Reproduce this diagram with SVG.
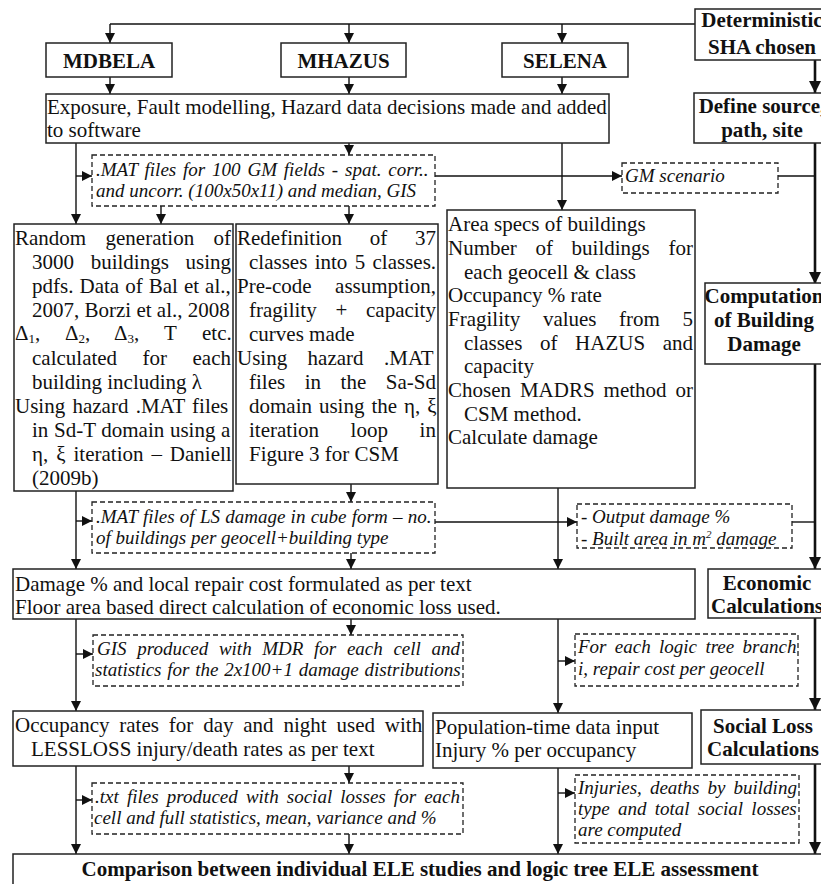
<svg xmlns="http://www.w3.org/2000/svg" width="821" height="884" viewBox="0 0 821 884">
<defs>
<marker id="ah" viewBox="0 0 10 10" refX="10" refY="5" markerWidth="10" markerHeight="10" markerUnits="userSpaceOnUse" orient="auto"><path d="M0,0 L10,5 L0,10 z" fill="#111"/></marker>
<marker id="ahb" viewBox="0 0 10 10" refX="10" refY="5" markerWidth="12" markerHeight="12" markerUnits="userSpaceOnUse" orient="auto"><path d="M0,0 L10,5 L0,10 z" fill="#111"/></marker>
</defs>
<style>
.box{fill:#fff;stroke:#222;stroke-width:1.5}
.dbox{fill:#fff;stroke:#222;stroke-width:1.3;stroke-dasharray:5 3}
.ln{fill:none;stroke:#111;stroke-width:1.4}
.lnb{fill:none;stroke:#111;stroke-width:2.6}
.t{font-family:"Liberation Serif","Times New Roman",serif;font-size:21px;fill:#111}
.b{font-weight:bold}
.i{font-style:italic;font-size:19px}
.c{text-anchor:middle}
.sub{font-size:13px}
</style>
<rect width="821" height="884" fill="#fff"/>

<g id="connectors">
<path class="ln" d="M110,24 H695"/>
<path class="ln" d="M110,24 V43" marker-end="url(#ah)"/>
<path class="ln" d="M349,24 V43" marker-end="url(#ah)"/>
<path class="ln" d="M562,24 V43" marker-end="url(#ah)"/>
<path class="ln" d="M110,77 V94" marker-end="url(#ah)"/>
<path class="ln" d="M349,77 V94" marker-end="url(#ah)"/>
<path class="ln" d="M562,77 V94" marker-end="url(#ah)"/>
<path class="lnb" d="M815,60 V93" marker-end="url(#ahb)"/>
<path class="ln" d="M76,143 V224" marker-end="url(#ah)"/>
<path class="ln" d="M76,176 H92" marker-end="url(#ah)"/>
<path class="ln" d="M349,143 V155" marker-end="url(#ah)"/>
<path class="ln" d="M161,206 V224" marker-end="url(#ah)"/>
<path class="ln" d="M349,206 V224" marker-end="url(#ah)"/>
<path class="ln" d="M435,176 H622" marker-end="url(#ah)"/>
<path class="ln" d="M562,143 V210" marker-end="url(#ah)"/>
<path class="ln" d="M778,176 H815"/>
<path class="lnb" d="M815,143 V284" marker-end="url(#ahb)"/>
<path class="ln" d="M76,491 V569" marker-end="url(#ah)"/>
<path class="ln" d="M76,521 H92" marker-end="url(#ah)"/>
<path class="ln" d="M351,484 V502" marker-end="url(#ah)"/>
<path class="ln" d="M351,553 V569" marker-end="url(#ah)"/>
<path class="ln" d="M435,522 H577" marker-end="url(#ah)"/>
<path class="ln" d="M558,488 V569" marker-end="url(#ah)"/>
<path class="ln" d="M792,522 H815"/>
<path class="lnb" d="M815,364 V569" marker-end="url(#ahb)"/>
<path class="ln" d="M76,619 V711" marker-end="url(#ah)"/>
<path class="ln" d="M76,654 H93" marker-end="url(#ah)"/>
<path class="ln" d="M351,619 V635" marker-end="url(#ah)"/>
<path class="ln" d="M558,619 V713" marker-end="url(#ah)"/>
<path class="ln" d="M558,661 H575" marker-end="url(#ah)"/>
<path class="lnb" d="M815,618 V710" marker-end="url(#ahb)"/>
<path class="ln" d="M76,766 V854" marker-end="url(#ah)"/>
<path class="ln" d="M76,800 H92" marker-end="url(#ah)"/>
<path class="ln" d="M349,766 V783" marker-end="url(#ah)"/>
<path class="ln" d="M349,834 V854" marker-end="url(#ah)"/>
<path class="ln" d="M558,768 V854" marker-end="url(#ah)"/>
<path class="ln" d="M558,793 H575" marker-end="url(#ah)"/>
<path class="lnb" d="M815,764 V854" marker-end="url(#ahb)"/>
</g>

<g id="deterministic">
<rect class="box" x="695" y="9" width="140" height="51"/>
<text class="t b c" x="762" y="27">Deterministic</text>
<text class="t b c" x="762" y="54">SHA chosen</text>
</g>
<g id="mdbela">
<rect class="box" x="46" y="43" width="126" height="34"/>
<text class="t b c" x="109" y="68">MDBELA</text>
</g>
<g id="mhazus">
<rect class="box" x="281" y="43" width="125" height="34"/>
<text class="t b c" x="343.5" y="68">MHAZUS</text>
</g>
<g id="selena">
<rect class="box" x="502" y="43" width="126" height="34"/>
<text class="t b c" x="565" y="68">SELENA</text>
</g>
<g id="exposure">
<rect class="box" x="46" y="94" width="563" height="49"/>
<text class="t" x="47" y="114">Exposure, Fault modelling, Hazard data decisions made and added</text>
<text class="t" x="47" y="137">to software</text>
</g>
<g id="define-source">
<rect class="box" x="694" y="93" width="140" height="50"/>
<text class="t b c" x="762" y="113">Define source,</text>
<text class="t b c" x="762" y="137">path, site</text>
</g>
<g id="mat-gm-fields">
<rect class="dbox" x="92" y="155" width="343" height="51"/>
<text class="t i" x="96" y="176" word-spacing="2.1">.MAT files for 100 GM fields - spat. corr..</text>
<text class="t i" x="96" y="197">and uncorr. (100x50x11) and median, GIS</text>
</g>
<g id="gm-scenario">
<rect class="dbox" x="622" y="163" width="156" height="30"/>
<text class="t i" x="625" y="182">GM scenario</text>
</g>
<g id="mdbela-steps">
<rect class="box" x="14" y="224" width="219" height="267"/>
<text class="t" x="15" y="245" word-spacing="14.1">Random generation of</text>
<text class="t" x="32" y="269" word-spacing="11.4">3000 buildings using</text>
<text class="t" x="32" y="293" word-spacing="0.8">pdfs. Data of Bal et al.,</text>
<text class="t" x="32" y="317">2007, Borzi et al., 2008</text>
<text class="t" y="340"><tspan x="15">Δ</tspan><tspan class="sub" dy="3">1</tspan><tspan dy="-3">,</tspan><tspan x="65">Δ</tspan><tspan class="sub" dy="3">2</tspan><tspan dy="-3">,</tspan><tspan x="114">Δ</tspan><tspan class="sub" dy="3">3</tspan><tspan dy="-3">,</tspan><tspan x="164">T</tspan><tspan x="202">etc.</tspan></text>
<text class="t" x="32" y="365" word-spacing="20.2">calculated for each</text>
<text class="t" x="32" y="389">building including λ</text>
<text class="t" x="15" y="413" word-spacing="2">Using hazard .MAT files</text>
<text class="t" x="32" y="437" word-spacing="0.4">in Sd-T domain using a</text>
<text class="t" x="32" y="461" word-spacing="2.7">η, ξ iteration – Daniell</text>
<text class="t" x="32" y="485">(2009b)</text>
</g>
<g id="mhazus-steps">
<rect class="box" x="236" y="224" width="202" height="260"/>
<text class="t" x="237" y="245" word-spacing="22.5">Redefinition of 37</text>
<text class="t" x="249" y="269" word-spacing="2.1">classes into 5 classes.</text>
<text class="t" x="237" y="293" word-spacing="18.2">Pre-code assumption,</text>
<text class="t" x="249" y="317" word-spacing="13.5">fragility + capacity</text>
<text class="t" x="249" y="341">curves made</text>
<text class="t" x="237" y="365" word-spacing="15.2">Using hazard .MAT</text>
<text class="t" x="249" y="389" word-spacing="14.3">files in the Sa-Sd</text>
<text class="t" x="249" y="413" word-spacing="1.7">domain using the η, ξ</text>
<text class="t" x="249" y="437" word-spacing="26.4">iteration loop in</text>
<text class="t" x="249" y="461">Figure 3 for CSM</text>
</g>
<g id="selena-steps">
<rect class="box" x="447" y="210" width="248" height="278"/>
<text class="t" x="448" y="231">Area specs of buildings</text>
<text class="t" x="448" y="255" word-spacing="13.4">Number of buildings for</text>
<text class="t" x="464" y="279">each geocell &amp; class</text>
<text class="t" x="448" y="302">Occupancy % rate</text>
<text class="t" x="448" y="326" word-spacing="17.3">Fragility values from 5</text>
<text class="t" x="464" y="350" word-spacing="12.4">classes of HAZUS and</text>
<text class="t" x="464" y="373">capacity</text>
<text class="t" x="448" y="397" word-spacing="3.7">Chosen MADRS method or</text>
<text class="t" x="464" y="421">CSM method.</text>
<text class="t" x="448" y="444">Calculate damage</text>
</g>
<g id="computation">
<rect class="box" x="705" y="283" width="130" height="81"/>
<text class="t b c" x="764" y="303">Computation</text>
<text class="t b c" x="764" y="327">of Building</text>
<text class="t b c" x="764" y="351">Damage</text>
</g>
<g id="mat-ls-damage">
<rect class="dbox" x="92" y="502" width="343" height="51"/>
<text class="t i" x="96" y="523" word-spacing="0.5">.MAT files of LS damage in cube form – no.</text>
<text class="t i" x="96" y="544">of buildings per geocell+building type</text>
</g>
<g id="output-damage">
<rect class="dbox" x="577" y="504" width="215" height="44"/>
<text class="t i" x="581" y="523">- Output damage %</text>
<text class="t i" x="581" y="545">- Built area in m<tspan font-size="11" dy="-7">2</tspan><tspan dy="7"> damage</tspan></text>
</g>
<g id="damage-cost">
<rect class="box" x="13" y="569" width="682" height="50"/>
<text class="t" x="15" y="591">Damage % and local repair cost formulated as per text</text>
<text class="t" x="15" y="614">Floor area based direct calculation of economic loss used.</text>
</g>
<g id="economic">
<rect class="box" x="708" y="569" width="130" height="49"/>
<text class="t b c" x="767" y="590">Economic</text>
<text class="t b c" x="767" y="613">Calculations</text>
</g>
<g id="gis-mdr">
<rect class="dbox" x="93" y="635" width="370" height="51"/>
<text class="t i" x="97" y="655" word-spacing="5.9">GIS produced with MDR for each cell and</text>
<text class="t i" x="95" y="676" word-spacing="1">statistics for the 2x100+1 damage distributions</text>
</g>
<g id="logic-branch">
<rect class="dbox" x="575" y="634" width="223" height="52"/>
<text class="t i" x="578" y="653" word-spacing="3.6">For each logic tree branch</text>
<text class="t i" x="578" y="675">i, repair cost per geocell</text>
</g>
<g id="occupancy">
<rect class="box" x="13" y="711" width="410" height="55"/>
<text class="t" x="15" y="732" word-spacing="4.6">Occupancy rates for day and night used with</text>
<text class="t" x="31" y="756">LESSLOSS injury/death rates as per text</text>
</g>
<g id="population">
<rect class="box" x="433" y="713" width="259" height="55"/>
<text class="t" x="435" y="734">Population-time data input</text>
<text class="t" x="435" y="757">Injury % per occupancy</text>
</g>
<g id="social-loss">
<rect class="box" x="701" y="710" width="135" height="54"/>
<text class="t b c" x="763" y="733">Social Loss</text>
<text class="t b c" x="763" y="756">Calculations</text>
</g>
<g id="txt-files">
<rect class="dbox" x="92" y="783" width="371" height="51"/>
<text class="t i" x="95" y="803" word-spacing="3.4">.txt files produced with social losses for each</text>
<text class="t i" x="94" y="824">cell and full statistics, mean, variance and %</text>
</g>
<g id="injuries">
<rect class="dbox" x="575" y="775" width="224" height="68"/>
<text class="t i" x="578" y="794" word-spacing="3.3">Injuries, deaths by building</text>
<text class="t i" x="578" y="815" word-spacing="3.5">type and total social losses</text>
<text class="t i" x="578" y="836">are computed</text>
</g>
<g id="comparison">
<rect class="box" x="13" y="854" width="830" height="50"/>
<text class="t b c" x="420" y="876">Comparison between individual ELE studies and logic tree ELE assessment</text>
</g>
</svg>
